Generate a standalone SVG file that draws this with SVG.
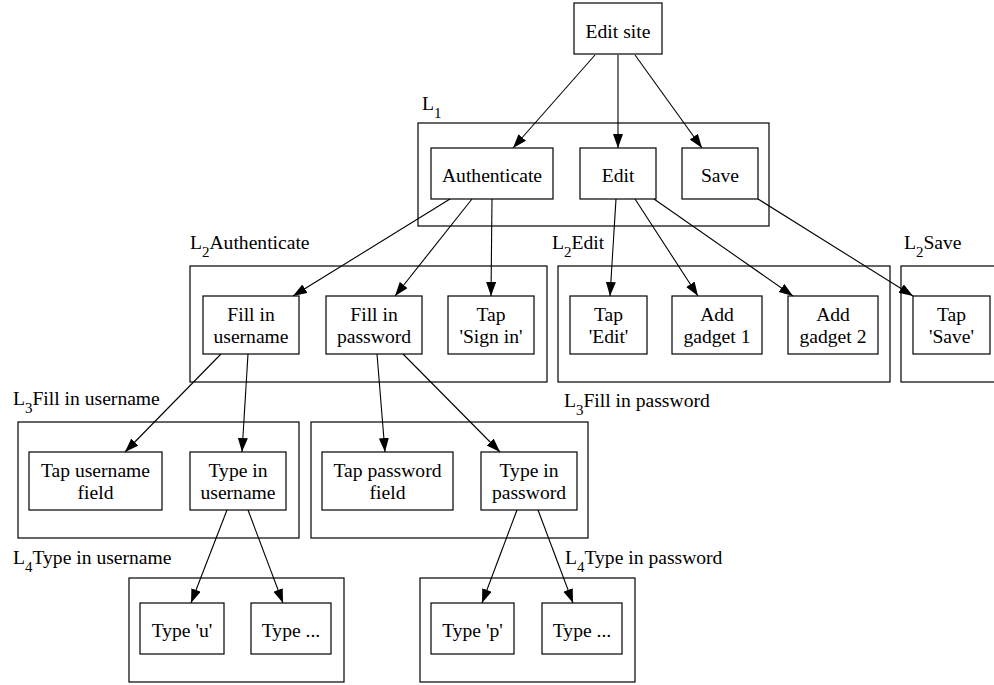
<svg xmlns="http://www.w3.org/2000/svg" width="994" height="685" viewBox="0 0 994 685" font-family="'Liberation Serif', 'DejaVu Serif', serif">
  <style>
    text { font-family: 'Liberation Serif', 'DejaVu Serif', serif; font-size: 19.6px; fill: #000; }
    .node text { text-anchor: middle; }
    .node rect, .cluster rect { fill: none; stroke: #000; stroke-width: 1.2; }
    .sub { font-size: 15px; }
    .edges line { stroke: #000; stroke-width: 1.1; marker-end: url(#arrow); }
  </style>
  <defs>
    <marker id="arrow" markerUnits="userSpaceOnUse" markerWidth="15" markerHeight="11" refX="14" refY="5" orient="auto">
      <path d="M0,0 L14,5 L0,10 z" fill="#000"/>
    </marker>
  </defs>
  <rect width="994" height="685" fill="#fff"/>

  <!-- clusters -->
  <g id="cluster-L1" class="cluster">
    <rect x="418" y="123" width="351" height="103"/>
    <text x="422" y="110">L<tspan class="sub" dy="8">1</tspan></text>
  </g>
  <g id="cluster-L2-authenticate" class="cluster">
    <rect x="190" y="266" width="357" height="116"/>
    <text x="190" y="249">L<tspan class="sub" dy="8">2</tspan><tspan dy="-8">Authenticate</tspan></text>
  </g>
  <g id="cluster-L2-edit" class="cluster">
    <rect x="558" y="266" width="332" height="116"/>
    <text x="552" y="249">L<tspan class="sub" dy="8">2</tspan><tspan dy="-8">Edit</tspan></text>
  </g>
  <g id="cluster-L2-save" class="cluster">
    <rect x="901" y="266" width="110" height="116"/>
    <text x="904" y="249">L<tspan class="sub" dy="8">2</tspan><tspan dy="-8">Save</tspan></text>
  </g>
  <g id="cluster-L3-username" class="cluster">
    <rect x="18" y="422" width="281" height="116"/>
    <text x="13" y="405">L<tspan class="sub" dy="8">3</tspan><tspan dy="-8">Fill in username</tspan></text>
  </g>
  <g id="cluster-L3-password" class="cluster">
    <rect x="311" y="422" width="277" height="116"/>
    <text x="564" y="407">L<tspan class="sub" dy="8">3</tspan><tspan dy="-8">Fill in password</tspan></text>
  </g>
  <g id="cluster-L4-username" class="cluster">
    <rect x="129" y="578" width="215" height="104"/>
    <text x="13" y="564">L<tspan class="sub" dy="8">4</tspan><tspan dy="-8">Type in username</tspan></text>
  </g>
  <g id="cluster-L4-password" class="cluster">
    <rect x="420" y="578" width="215" height="104"/>
    <text x="565" y="564">L<tspan class="sub" dy="8">4</tspan><tspan dy="-8">Type in password</tspan></text>
  </g>

  <!-- nodes -->
  <g id="edit-site" class="node"><rect x="574" y="3" width="88" height="51"/><text x="618" y="37.5">Edit site</text></g>
  <g id="authenticate" class="node"><rect x="431" y="148" width="122" height="51"/><text x="492" y="182">Authenticate</text></g>
  <g id="edit" class="node"><rect x="580" y="148" width="76" height="51"/><text x="618" y="182">Edit</text></g>
  <g id="save" class="node"><rect x="682" y="148" width="76" height="51"/><text x="720" y="182">Save</text></g>

  <g id="fill-username" class="node"><rect x="203" y="296" width="96" height="58"/><text x="251" y="320.7">Fill in</text><text x="251" y="343">username</text></g>
  <g id="fill-password" class="node"><rect x="326" y="296" width="96" height="58"/><text x="374" y="320.7">Fill in</text><text x="374" y="343">password</text></g>
  <g id="tap-sign-in" class="node"><rect x="448" y="296" width="86" height="58"/><text x="491" y="320.7">Tap</text><text x="491" y="343">'Sign in'</text></g>
  <g id="tap-edit" class="node"><rect x="570" y="296" width="77" height="58"/><text x="608.5" y="320.7">Tap</text><text x="608.5" y="343">'Edit'</text></g>
  <g id="add-gadget-1" class="node"><rect x="672" y="296" width="90" height="58"/><text x="717" y="320.7">Add</text><text x="717" y="343">gadget 1</text></g>
  <g id="add-gadget-2" class="node"><rect x="788" y="296" width="90" height="58"/><text x="833" y="320.7">Add</text><text x="833" y="343">gadget 2</text></g>
  <g id="tap-save" class="node"><rect x="913" y="296" width="77" height="58"/><text x="951.5" y="320.7">Tap</text><text x="951.5" y="343">'Save'</text></g>

  <g id="tap-username-field" class="node"><rect x="29" y="452" width="133" height="58"/><text x="95.5" y="476.7">Tap username</text><text x="95.5" y="499">field</text></g>
  <g id="type-username" class="node"><rect x="190" y="452" width="96" height="58"/><text x="238" y="476.7">Type in</text><text x="238" y="499">username</text></g>
  <g id="tap-password-field" class="node"><rect x="322" y="452" width="131" height="58"/><text x="387.5" y="476.7">Tap password</text><text x="387.5" y="499">field</text></g>
  <g id="type-password" class="node"><rect x="481" y="452" width="96" height="58"/><text x="529" y="476.7">Type in</text><text x="529" y="499">password</text></g>

  <g id="type-u" class="node"><rect x="140" y="603" width="84" height="51"/><text x="182" y="637">Type 'u'</text></g>
  <g id="type-more-u" class="node"><rect x="251" y="603" width="80" height="51"/><text x="291" y="637">Type ...</text></g>
  <g id="type-p" class="node"><rect x="431" y="603" width="83" height="51"/><text x="472.5" y="637">Type 'p'</text></g>
  <g id="type-more-p" class="node"><rect x="542" y="603" width="80" height="51"/><text x="582" y="637">Type ...</text></g>

  <!-- connectors -->
  <g id="edges" class="edges">
    <line x1="595" y1="55" x2="513" y2="148"/>
    <line x1="618" y1="55" x2="618" y2="148"/>
    <line x1="635" y1="55" x2="702" y2="148"/>
    <line x1="450" y1="199" x2="293" y2="296"/>
    <line x1="472" y1="199" x2="395" y2="296"/>
    <line x1="492" y1="199" x2="491" y2="296"/>
    <line x1="616" y1="199" x2="610" y2="296"/>
    <line x1="635" y1="199" x2="698" y2="296"/>
    <line x1="654" y1="199" x2="793" y2="296"/>
    <line x1="758" y1="199" x2="913" y2="296"/>
    <line x1="221" y1="354" x2="125" y2="452"/>
    <line x1="248" y1="354" x2="242" y2="452"/>
    <line x1="377" y1="354" x2="385" y2="452"/>
    <line x1="403" y1="354" x2="500" y2="452"/>
    <line x1="227" y1="510" x2="191" y2="603"/>
    <line x1="248" y1="510" x2="283" y2="603"/>
    <line x1="517" y1="510" x2="482" y2="603"/>
    <line x1="538" y1="510" x2="573" y2="603"/>
  </g>
</svg>
